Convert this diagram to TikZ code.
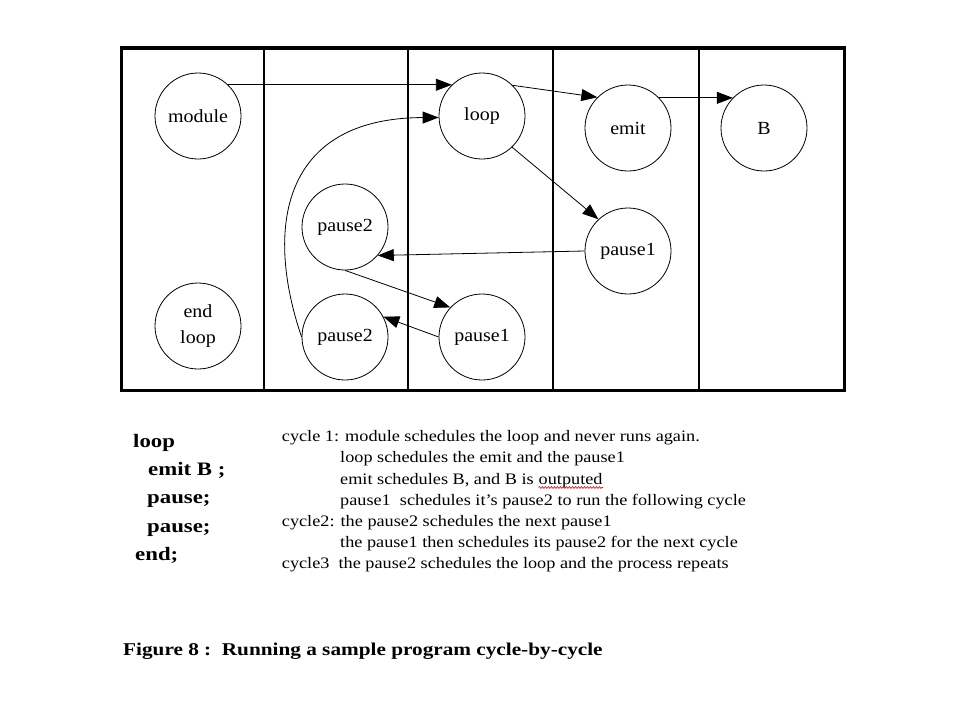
\documentclass[tikz,border=0pt]{standalone}
\usepackage{fontspec}
\setmainfont{Liberation Serif}
\newfontfamily\circfont[FakeStretch=1.08]{Liberation Serif}
\newfontfamily\notefont[FakeStretch=1.14]{Liberation Serif}
\newfontfamily\codefont[FakeStretch=1.2]{Liberation Serif}
\newfontfamily\capfont[FakeStretch=1.18]{Liberation Serif}
\usetikzlibrary{arrows.meta,positioning,decorations.pathmorphing}

\tikzset{
  state/.style={circle, draw, line width=0.8pt, minimum size=86pt, inner sep=0pt, align=center,
    font=\circfont\fontsize{18.5}{26}\selectfont},
  trans/.style={-{Triangle[length=16pt,width=12pt]}, line width=0.8pt},
  note/.style={anchor=base west, inner sep=0pt, font=\notefont\fontsize{16}{21}\selectfont},
  code/.style={anchor=base west, inner sep=0pt, font=\codefont\bfseries\fontsize{19}{27}\selectfont},
}

\begin{document}
\begin{tikzpicture}[x=1pt, y=-1pt]
\useasboundingbox (0,0) rectangle (960,720);

% Frame with columns
\foreach \x in {264, 408, 553, 699} {
    \draw[line width=1.3pt] (\x, 48) -- (\x, 390.5);
}
\draw[line width=3.5pt] (121.5, 48) rectangle (844.5, 390.5);

% States
\node[state] (module) at (198, 116) {module};
\node[state] (endloop) at (198, 326) {end\\loop};
\node[state] (pausea2) at (345, 227) {pause2};
\node[state] (pauseb2) at (345, 337) {pause2};
\node[state] (loop) at (482, 116) {loop};
\node[state] (pauseb1) at (482, 337) {pause1};
\node[state] (emit) at (628, 128) {emit};
\node[state] (pausea1) at (628, 251) {pause1};
\node[state] (b) at (764, 128) {B};

% Scheduling arrows
\draw[trans] (module.46) -- (loop.134);
\draw[trans] (pauseb2.west) .. controls (265, 230) and (280, 118) .. (loop.182);
\draw[trans] (loop.45) -- (emit.135);
\draw[trans] (emit.44) -- (b.136);
\draw[trans] (loop.-46) -- (pausea1.133);
\draw[trans] (pausea1.west) -- (pausea2.-41);
\draw[trans] (pausea2.south) -- (pauseb1.137);
\draw[trans] (pauseb1.west) -- (pauseb2.28);

% Program
\node[code] (c1) at (133, 447) {loop};
\node[code] (c2) at (148, 475) {emit B ;};
\node[code] (c3) at (147, 503) {pause;};
\node[code] (c4) at (147, 532) {pause;};
\node[code] (c5) at (135, 560) {end;};

% Cycle notes
\node[note] (n1) at (281.7, 441.7) {cycle 1: module schedules the loop and never runs again.};
\node[note] (n2) at (340, 462.7) {loop schedules the emit and the pause1};
\node[note] (n3) at (340, 484) {emit schedules B, and B is};
\node[note] (n3b) at ([xshift=4.6pt]n3.base east) {outputed};
\node[note] (n4) at (340, 505) {pause1\ \ schedules it’s pause2 to run the following cycle};
\node[note] (n5) at (281.7, 526) {cycle2: the pause2 schedules the next pause1};
\node[note] (n6) at (340, 547) {the pause1 then schedules its pause2 for the next cycle};
\node[note] (n7) at (281.7, 568) {cycle3\ \ the pause2 schedules the loop and the process repeats};
\draw[red, line width=0.6pt, decorate, decoration={snake, amplitude=0.9pt, segment length=3pt}]
    ([yshift=-3.5pt]n3b.base west) -- ([yshift=-3.5pt]n3b.base east);

% Caption
\node[anchor=base west, inner sep=0pt, font=\capfont\bfseries\fontsize{18}{22}\selectfont] (cap) at (123, 655)
    {Figure 8 :\ \ Running a sample program cycle-by-cycle};

\end{tikzpicture}
\end{document}
